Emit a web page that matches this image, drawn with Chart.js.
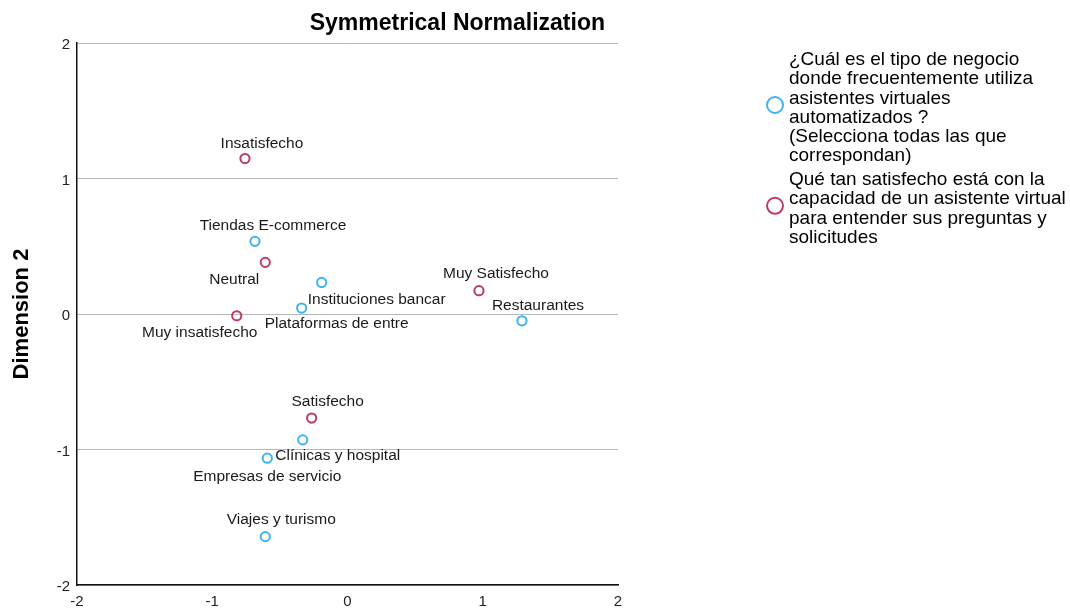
<!DOCTYPE html>
<html><head><meta charset="utf-8">
<script src="https://cdn.jsdelivr.net/npm/chart.js@4.4.1/dist/chart.umd.min.js"></script>
<style>html,body{margin:0;padding:0;background:#fff}#wrap{width:1070px;height:608px;position:relative}</style>
</head><body><div id="wrap"><canvas id="c" width="1070" height="608"></canvas></div>
<script>
// ---- data ----
const businessLabels = ['Tiendas E-commerce', 'Instituciones bancar', 'Plataformas de entre', 'Restaurantes', 'Clínicas y hospital', 'Empresas de servicio', 'Viajes y turismo'];
const businessX = [-0.684, -0.191, -0.339, 1.290, -0.331, -0.593, -0.608];
const businessY = [0.536, 0.233, 0.044, -0.050, -0.929, -1.064, -1.643];
const satisfactionLabels = ['Insatisfecho', 'Neutral', 'Muy Satisfecho', 'Muy insatisfecho', 'Satisfecho'];
const satisfactionX = [-0.758, -0.608, 0.972, -0.819, -0.265];
const satisfactionY = [1.147, 0.381, 0.172, -0.013, -0.768];
const businessLegend = ['¿Cuál es el tipo de negocio', 'donde frecuentemente utiliza', 'asistentes virtuales', 'automatizados ?', '(Selecciona todas las que', 'correspondan)'];
const satisfactionLegend = ['Qué tan satisfecho está con la', 'capacidad de un asistente virtual', 'para entender sus preguntas y', 'solicitudes'];
const axisTicks = [-2, -1, 0, 1, 2];
const chartTitle = 'Symmetrical Normalization';
const yAxisTitle = 'Dimension 2';

// ---- label placement (pixel offsets of each label centre from its point) ----
const labelOffsets = [
  [[18,-16],[55,17],[35,16],[16,-15],[35,16],[0,19],[16,-17]],
  [[17,-15],[-31,17],[17,-17],[-37,17],[16,-16]]
];

const BLUE = '#3db3f5';
const RED = '#bb3a6c';
const FONT = '"Liberation Sans", Arial, sans-serif';

function pts(xs, ys, labels) { return xs.map((x, i) => ({x: x, y: ys[i], label: labels[i]})); }

const pointLabels = {
  id: 'pointLabels',
  afterDatasetsDraw(chart) {
    const ctx = chart.ctx;
    ctx.save();
    ctx.font = '15.5px ' + FONT;
    ctx.fillStyle = '#1a1a1a';
    ctx.textAlign = 'center';
    ctx.textBaseline = 'middle';
    chart.data.datasets.forEach((ds, di) => {
      const meta = chart.getDatasetMeta(di);
      meta.data.forEach((el, i) => {
        const off = labelOffsets[di][i];
        ctx.fillText(ds.data[i].label, el.x + off[0], el.y + off[1]);
      });
    });
    ctx.restore();
  }
};

const titleAndLegend = {
  id: 'titleAndLegend',
  afterDraw(chart) {
    const ctx = chart.ctx;
    const ca = chart.chartArea;
    ctx.save();
    // title
    ctx.font = 'bold 23px ' + FONT;
    ctx.fillStyle = '#000';
    ctx.textAlign = 'right';
    ctx.textBaseline = 'middle';
    ctx.fillText(chartTitle, ca.right - 13, 24);
    // legend
    ctx.font = '19px ' + FONT;
    ctx.textAlign = 'left';
    const groups = [[businessLegend, BLUE, 60], [satisfactionLegend, RED, 180]];
    const lh = 19.2;
    groups.forEach(g => {
      const lines = g[0];
      lines.forEach((t, i) => {
        ctx.fillStyle = '#000';
        ctx.fillText(t, ca.right + 171, g[2] + i * lh);
      });
      const cy = g[2] + (lines.length - 1) * lh / 2 - 3;
      ctx.beginPath();
      ctx.arc(ca.right + 157, cy, 8, 0, Math.PI * 2);
      ctx.lineWidth = 2;
      ctx.strokeStyle = g[1];
      ctx.stroke();
    });
    ctx.restore();
  }
};

new Chart(document.getElementById('c'), {
  type: 'scatter',
  data: {
    datasets: [
      { label: businessLegend.join(' '), data: pts(businessX, businessY, businessLabels),
        borderColor: BLUE, backgroundColor: 'rgba(255,255,255,0)', pointRadius: 4.6, pointBorderWidth: 2, pointHoverRadius: 4.6 },
      { label: satisfactionLegend.join(' '), data: pts(satisfactionX, satisfactionY, satisfactionLabels),
        borderColor: RED, backgroundColor: 'rgba(255,255,255,0)', pointRadius: 4.6, pointBorderWidth: 2, pointHoverRadius: 4.6 }
    ]
  },
  options: {
    responsive: false,
    animation: false,
    devicePixelRatio: 1,
    layout: { padding: { top: 43, right: 452, bottom: 0, left: 0 } },
    plugins: { legend: { display: false }, tooltip: { enabled: false }, title: { display: false } },
    scales: {
      x: {
        type: 'linear', min: -2, max: 2,
        afterBuildTicks: s => { s.ticks = axisTicks.map(v => ({value: v})); },
        afterFit: s => { s.height = 23; },
        grid: { display: false, drawTicks: false },
        border: { display: true, color: '#111', width: 1.5 },
        ticks: { padding: 8, color: '#222', font: { family: FONT, size: 15 } }
      },
      y: {
        type: 'linear', min: -2, max: 2,
        afterBuildTicks: s => { s.ticks = axisTicks.map(v => ({value: v})); },
        afterFit: s => { s.width = 77; },
        grid: { color: '#b8b8b8', lineWidth: 1, drawTicks: false },
        border: { display: true, color: '#111', width: 1.5 },
        ticks: { padding: 7, labelOffset: 2, color: '#222', font: { family: FONT, size: 15 } },
        title: { display: true, text: yAxisTitle, color: '#000', font: { family: FONT, size: 22, weight: 'bold' }, padding: { top: 9, bottom: 0 } }
      }
    }
  },
  plugins: [pointLabels, titleAndLegend]
});
</script>
</body></html>
